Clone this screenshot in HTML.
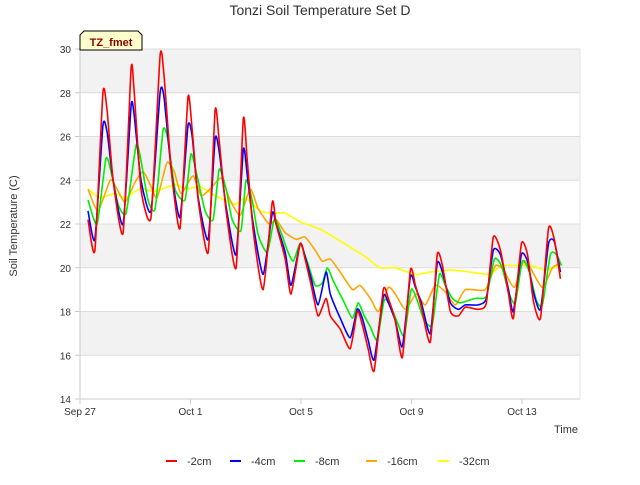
<!DOCTYPE html>
<html><head><meta charset="utf-8"><style>
body{margin:0;background:#fff;font-family:"Liberation Sans",sans-serif}
svg text{font-family:"Liberation Sans",sans-serif}
</style></head><body>
<svg id="chart" width="640" height="480" viewBox="0 0 640 480">
<text x="320" y="15" text-anchor="middle" font-size="14" fill="#333">Tonzi Soil Temperature Set D</text>
<text transform="translate(17,226) rotate(-90)" text-anchor="middle" font-size="11" fill="#333">Soil Temperature (C)</text>
<text x="578" y="433" text-anchor="end" font-size="11" fill="#333">Time</text>
<g id="bands"></g><g id="grid"></g><g id="ticks"></g><g id="series"></g>
<g>
<path d="M80,50 L80,35 L84,31 L138,31 L142,35 L142,50 Z" fill="#ffffcc" stroke="#000" stroke-width="1"/>
<text x="111" y="46" text-anchor="middle" font-size="11" font-weight="bold" fill="#8b0000">TZ_fmet</text>
</g>
<g id="legend"></g>
</svg>
<script>
const yTicks=[14,16,18,20,22,24,26,28,30];
const xTickDays=[0,4,8,12,16];
const xTickLabels=["Sep 27","Oct 1","Oct 5","Oct 9","Oct 13"];
const seriesNames=["-2cm","-4cm","-8cm","-16cm","-32cm"];
const seriesColors=["#ff0000","#0000ff","#00ee00","#ffa500","#ffff00"];
const tShallow=[0.29,0.54,0.83,0.98,1.20,1.56,1.85,1.96,2.21,2.57,2.90,3.04,3.30,3.62,3.91,4.06,4.28,4.64,4.89,5.04,5.29,5.65,5.91,6.05,6.27,6.63,6.96,7.10,7.43,7.64,7.97,8.15,8.37,8.62,8.91,9.06,9.42,9.78,10.04,10.22,10.43,10.65,10.98,11.16,11.41,11.67,11.96,12.14,12.36,12.68,12.93,13.12,13.41,13.70,13.95,14.42,14.71,14.96,15.22,15.51,15.69,15.98,16.20,16.41,16.67,16.96,17.17,17.39];
const v2cm=[22.2,20.8,28.0,27.2,24.0,21.6,29.1,28.1,23.6,22.3,29.7,28.8,24.5,21.8,27.8,26.3,23.1,20.7,27.2,25.8,22.6,20.0,26.8,25.0,21.7,19.0,23.0,22.0,20.4,18.8,21.1,20.4,19.2,17.8,18.6,17.8,17.2,16.3,18.0,17.4,16.3,15.3,19.0,18.6,17.6,15.9,19.9,19.2,18.2,16.6,20.6,20.1,18.0,17.8,18.2,18.1,18.4,21.4,20.8,18.8,17.7,21.1,20.6,18.5,17.7,21.8,21.3,19.5];
const v4cm=[22.6,21.3,26.5,26.2,24.0,22.0,27.4,27.0,24.0,22.6,28.0,27.8,24.5,22.3,26.5,26.0,23.2,21.3,25.9,25.3,22.8,20.6,25.4,24.3,22.0,19.7,22.5,22.0,20.7,19.2,21.1,20.5,19.5,18.3,19.8,18.8,17.7,16.8,18.1,17.7,16.7,15.8,18.7,18.4,17.6,16.4,19.6,19.1,18.4,17.0,20.2,19.8,18.4,18.1,18.3,18.3,18.6,20.8,20.6,19.0,18.0,20.6,20.3,18.9,18.1,21.1,21.2,19.8];
const t8cm=[0.29,0.62,0.94,1.16,1.38,1.67,2.03,2.21,2.46,2.72,3.01,3.19,3.44,3.80,4.02,4.24,4.53,4.82,5.04,5.29,5.51,5.83,6.01,6.23,6.45,6.78,7.03,7.25,7.50,7.72,7.97,8.22,8.51,8.77,8.95,9.17,9.53,9.86,10.07,10.29,10.51,10.76,11.01,11.23,11.52,11.74,11.99,12.21,12.46,12.75,13.01,13.22,13.48,13.77,14.31,14.71,15.00,15.25,15.54,15.76,16.01,16.27,16.52,16.74,17.03,17.25,17.43];
const v8cm=[23.1,22.0,25.0,24.2,22.9,22.5,25.6,24.9,23.1,22.7,26.3,25.8,23.6,23.1,25.2,24.2,22.6,22.2,24.5,23.6,22.2,21.7,24.0,23.1,21.5,20.7,22.2,21.7,20.8,20.3,21.1,20.3,19.2,19.3,20.0,19.4,18.5,17.7,18.4,17.8,17.3,16.7,18.5,18.3,17.4,16.9,19.0,18.5,17.6,17.4,19.7,19.2,18.6,18.4,18.6,18.7,20.4,20.1,18.8,18.4,20.3,19.8,18.5,18.3,20.6,20.6,20.1];
const t16cm=[0.29,0.65,1.09,1.30,1.63,1.99,2.28,2.54,2.79,3.15,3.41,3.66,4.09,4.38,4.71,5.11,5.43,5.80,6.16,6.45,6.85,7.10,7.43,7.83,8.15,8.51,8.77,9.06,9.42,9.86,10.14,10.51,10.80,11.16,11.41,11.78,12.17,12.50,12.86,13.22,13.59,13.95,14.67,15.04,15.33,15.72,16.05,16.30,16.74,17.10,17.39];
const v16cm=[23.6,22.6,24.0,23.7,23.0,23.9,24.4,23.8,23.2,24.8,24.4,23.4,24.2,23.3,23.6,24.1,23.1,22.4,23.6,22.7,22.0,22.2,21.6,21.3,21.4,20.8,20.3,20.4,19.8,19.0,19.2,18.6,18.0,19.1,18.8,18.1,18.8,18.3,19.2,18.9,18.3,19.0,19.0,20.1,19.9,19.1,20.3,20.0,19.1,20.0,20.2];
const t32cm=[0.29,0.72,1.27,1.63,2.17,2.72,3.44,3.80,4.35,4.89,5.62,5.98,6.52,6.96,7.43,7.97,8.62,9.06,9.71,10.33,10.87,11.41,12.14,12.68,13.41,14.13,14.86,15.22,15.76,16.30,16.85,17.39];
const v32cm=[23.6,23.2,23.4,23.2,23.6,23.5,23.8,23.6,23.7,23.3,22.9,23.2,22.6,22.5,22.5,22.1,21.8,21.5,21.0,20.5,20.0,20.0,19.7,19.8,19.9,19.8,19.7,20.1,20.1,20.1,19.9,20.1];

const X0=80,X1=580,Y0=399,Y1=49;
const x=d=>X0+d*(X1-X0)/18.1;
const y=v=>Y0-(v-14)*(Y0-Y1)/16;
const NS="http://www.w3.org/2000/svg";
function mk(tag,parent,attrs){const e=document.createElementNS(NS,tag);for(const k in attrs)e.setAttribute(k,attrs[k]);parent.appendChild(e);return e;}
function smoothPath(P){
  let d='M'+P[0][0].toFixed(1)+','+P[0][1].toFixed(1);
  const k=0.1;
  for(let i=0;i<P.length-1;i++){
    const p0=P[Math.max(0,i-1)],p1=P[i],p2=P[i+1],p3=P[Math.min(P.length-1,i+2)];
    const c1=[p1[0]+(p2[0]-p0[0])*k,p1[1]+(p2[1]-p0[1])*k];
    const c2=[p2[0]-(p3[0]-p1[0])*k,p2[1]-(p3[1]-p1[1])*k];
    d+=' C'+c1.map(n=>n.toFixed(1)).join(',')+' '+c2.map(n=>n.toFixed(1)).join(',')+' '+p2[0].toFixed(1)+','+p2[1].toFixed(1);
  }
  return d;
}
const bands=document.getElementById('bands');
for(let i=0;i<yTicks.length-1;i++){
  const r=mk('rect',bands,{x:X0,y:y(yTicks[i+1]),width:X1-X0,height:y(yTicks[i])-y(yTicks[i+1]),fill:(i%2===1)?'#f2f2f2':'#ffffff'});
  
  
}
const grid=document.getElementById('grid'),ticks=document.getElementById('ticks');
yTicks.forEach(t=>{
  const l=mk('line',grid,{x1:X0,x2:X1,y1:y(t),y2:y(t),stroke:'#dddddd','stroke-width':1});
  
  
  const tx=mk('text',ticks,{x:X0-9,y:y(t)+4,'text-anchor':'end','font-size':10,fill:'#333'});
  tx.textContent=t;
  
  
  mk('line',ticks,{x1:X0-5,x2:X0,y1:y(t),y2:y(t),stroke:'#ccc'});
});
xTickDays.forEach((d,i)=>{
  mk('line',ticks,{x1:x(d),x2:x(d),y1:Y0,y2:Y0+5,stroke:'#ccc'});
  const tx=mk('text',ticks,{x:x(d),y:Y0+16,'text-anchor':'middle','font-size':10,fill:'#333'});
  tx.textContent=xTickLabels[i];
  
  
});
mk('line',ticks,{x1:X0,x2:X0,y1:Y1,y2:Y0,stroke:'#ccc'});
mk('line',ticks,{x1:X0,x2:X1,y1:Y0,y2:Y0,stroke:'#ccc'});
mk('line',ticks,{x1:X1,x2:X1,y1:Y1,y2:Y0,stroke:'#e6e6e6'});
const seriesT=[tShallow,tShallow,t8cm,t16cm,t32cm];
const seriesV=[v2cm,v4cm,v8cm,v16cm,v32cm];
const sg=document.getElementById('series');
for(let s=seriesV.length-1;s>=0;s--){
  const P=seriesV[s].map((v,i)=>[x(seriesT[s][i]),y(v)]);
  const p=mk('path',sg,{d:smoothPath(P),fill:'none',stroke:seriesColors[s],'stroke-width':1.6,'stroke-linejoin':'round'});
  
  
}
const lg=document.getElementById('legend');
const lx=[166,230,294,366,438];
seriesNames.forEach((n,i)=>{
  const g=mk('g',lg,{});
  
  
  mk('line',g,{x1:lx[i],x2:lx[i]+11,y1:461,y2:461,stroke:seriesColors[i],'stroke-width':2});
  const t=mk('text',g,{x:lx[i]+21,y:465,'font-size':11,fill:'#333'});
  t.textContent=n;
});
</script>
</body></html>
